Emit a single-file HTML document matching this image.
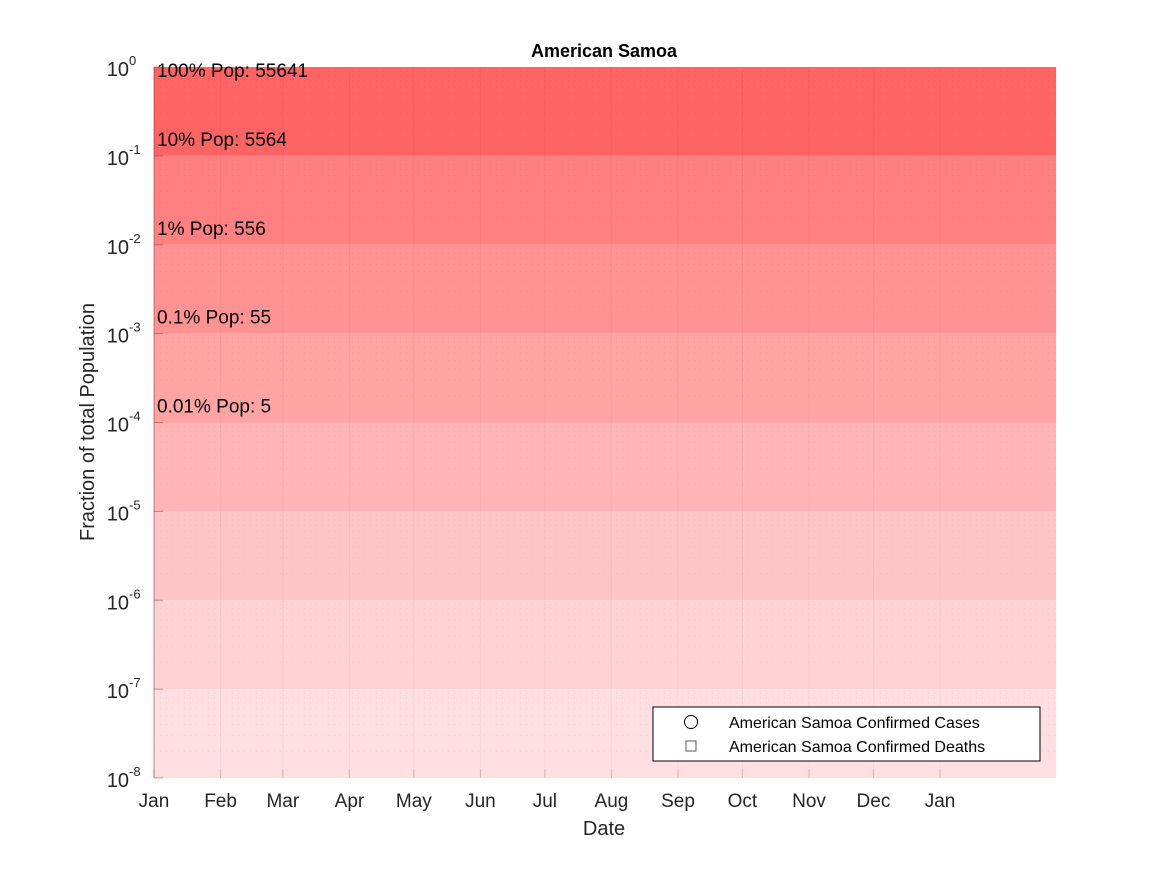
<!DOCTYPE html>
<html><head><meta charset="utf-8">
<style>
html,body{margin:0;padding:0;background:#fff;}
svg text{font-family:"Liberation Sans",Arial,sans-serif;}
</style></head>
<body>
<svg id="chart" width="1167" height="875" xmlns="http://www.w3.org/2000/svg">
<rect x="0" y="0" width="1167" height="875" fill="#fff"/>
<g id="bands"></g>
<g id="grid"></g>
<g id="axes"></g>
<g id="labels"></g>
<text x="604" y="57" font-size="18" font-weight="bold" text-anchor="middle" fill="#000">American Samoa</text>
<text x="604" y="835" font-size="20" text-anchor="middle" fill="#262626">Date</text>
<text transform="translate(94,422) rotate(-90)" font-size="20" text-anchor="middle" fill="#262626">Fraction of total Population</text>
<g>
<rect x="653" y="707" width="387" height="54" fill="#fff" stroke="#000" stroke-width="1"/>
<circle cx="691" cy="722" r="6.5" fill="none" stroke="#000" stroke-width="1"/>
<text x="729" y="728" font-size="16" fill="#000">American Samoa Confirmed Cases</text>
<rect x="686" y="741" width="10" height="10" fill="none" stroke="#555" stroke-width="1"/>
<text x="729" y="752" font-size="16" fill="#000">American Samoa Confirmed Deaths</text>
</g>
</svg>
<script>
const bandColors=["#ff6464","#ff8080","#ff9393","#ffa3a3","#ffb5b5","#ffc4c4","#ffd3d3","#ffdfe1"];
const decadeExps=[0,-1,-2,-3,-4,-5,-6,-7,-8];
const monthLabels=["Jan","Feb","Mar","Apr","May","Jun","Jul","Aug","Sep","Oct","Nov","Dec","Jan"];
const monthDays=[0,31,60,91,121,152,182,213,244,274,305,335,366];
const popLabels=["100% Pop: 55641","10% Pop: 5564","1% Pop: 556","0.1% Pop: 55","0.01% Pop: 5"];
const popExps=[0,-1,-2,-3,-4];
const xMaxDay=420;

const L=154,R=1056,T=67,B=778;
const ns="http://www.w3.org/2000/svg";
function yS(e){return T+(0-e)/8*(B-T);}
function xS(d){return L+d/xMaxDay*(R-L);}
function mk(tag,attrs,parent){const el=document.createElementNS(ns,tag);for(const k in attrs)el.setAttribute(k,attrs[k]);document.getElementById(parent).appendChild(el);return el;}

bandColors.forEach((c,i)=>{
  const y1=yS(-i),y2=yS(-i-1);
  const r=mk('rect',{x:L,y:y1,width:R-L,height:y2-y1,fill:c},'bands');
  
  
});
for(let e=0;e>-8;e--){
  for(let m=2;m<=9;m++){
    const y=yS(e-1+Math.log10(m));
    const l=mk('line',{x1:L,x2:R,y1:y,y2:y,stroke:"rgba(0,0,0,0.07)","stroke-width":1,"stroke-dasharray":"1,5"},'grid');
    
    
  }
}
monthDays.forEach((d,i)=>{
  const x=xS(d);
  const l=mk('line',{x1:x,x2:x,y1:T,y2:B,stroke:"rgba(0,0,0,0.035)","stroke-width":1},'grid');
  
  
  const tk=mk('line',{x1:x,x2:x,y1:B,y2:B-9,stroke:"rgba(180,0,0,0.2)","stroke-width":1},'axes');
  
  
  const t=mk('text',{x:x,y:807,"font-size":19,"text-anchor":"middle",fill:"#262626"},'axes');
  t.textContent=monthLabels[i];
  
  
});
decadeExps.forEach(e=>{
  const y=yS(e);
  const tk=mk('line',{x1:L,x2:L+9,y1:y,y2:y,stroke:"rgba(150,0,0,0.4)","stroke-width":1},'axes');
  
  
  const t=mk('text',{x:129,y:y+9,"font-size":20,"text-anchor":"end",fill:"#262626"},'axes');
  t.textContent="10";
  
  
  const s=mk('text',{x:129,y:y-2,"font-size":13,"text-anchor":"start",fill:"#262626"},'axes');
  s.textContent=String(e);
  
  
});
const ax=mk('line',{x1:L,x2:L,y1:T,y2:B,stroke:"rgba(180,0,0,0.45)","stroke-width":1},'axes');


popLabels.forEach((s,i)=>{
  const y=(i==0)?yS(0)+10:yS(popExps[i])-10;
  const t=mk('text',{x:157,y:y,"font-size":19,fill:"#000"},'labels');
  t.textContent=s;
  
  
});
</script>
</body></html>
